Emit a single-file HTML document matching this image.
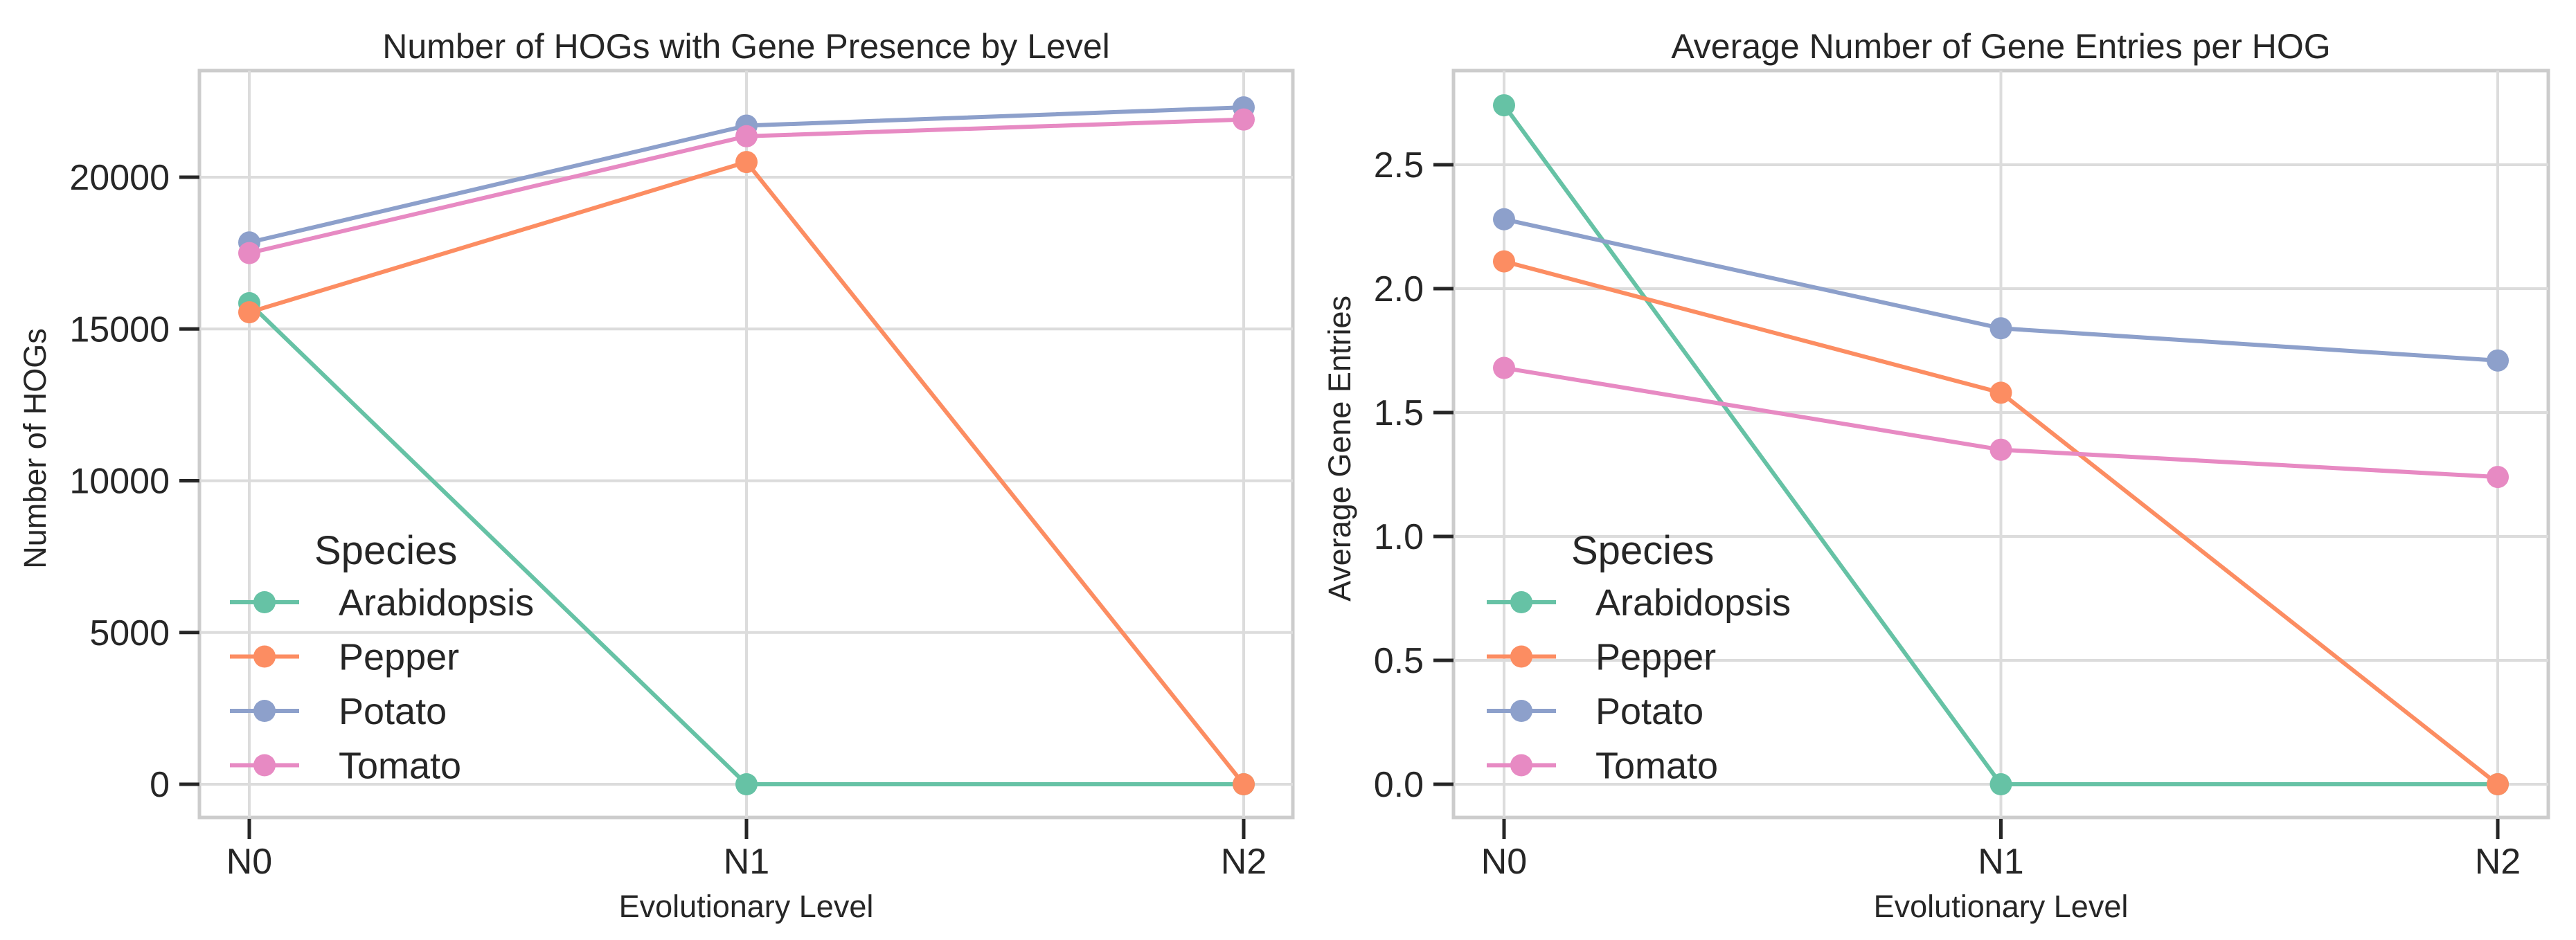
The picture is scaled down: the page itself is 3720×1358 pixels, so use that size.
<!DOCTYPE html>
<html><head><meta charset="utf-8"><style>
html,body{margin:0;padding:0;background:#fff;}
svg{display:block;font-family:"Liberation Sans",sans-serif;}
</style></head><body>
<svg id="chart" width="3720" height="1358" viewBox="0 0 3720 1358" xmlns="http://www.w3.org/2000/svg"></svg>
<script>
const levels = ["N0","N1","N2"];
const species = ["Arabidopsis","Pepper","Potato","Tomato"];
const colors = ["#66c2a5","#fc8d62","#8da0cb","#e78ac3"];
const hogArabidopsis = [15850, 0, 0];
const hogPepper = [15550, 20500, 0];
const hogPotato = [17850, 21700, 22300];
const hogTomato = [17500, 21350, 21900];
const avgArabidopsis = [2.74, 0, 0];
const avgPepper = [2.11, 1.58, 0];
const avgPotato = [2.28, 1.84, 1.71];
const avgTomato = [1.68, 1.35, 1.24];
const hogTicks = [0, 5000, 10000, 15000, 20000];
const hogTickLabels = ["0","5000","10000","15000","20000"];
const avgTicks = [0, 0.5, 1.0, 1.5, 2.0, 2.5];
const avgTickLabels = ["0.0","0.5","1.0","1.5","2.0","2.5"];

const NS = "http://www.w3.org/2000/svg";
const svg = document.getElementById("chart");
function mk(tag, attrs, parent, text){
  const e = document.createElementNS(NS, tag);
  for (const k in attrs) e.setAttribute(k, attrs[k]);
  if (text !== undefined) e.textContent = text;
  (parent || svg).appendChild(e);
  return e;
}

function panel(cfg){
  const g = mk("g", {});
  
  
  const xs = i => cfg.x0 + (cfg.x2 - cfg.x0) * i / (levels.length - 1);
  const ys = v => cfg.yZero - (v / cfg.yRefVal) * (cfg.yZero - cfg.yRef);
  const frame = mk("rect", {x: cfg.fl, y: 102, width: cfg.fr - cfg.fl, height: 1181 - 102, fill: "none", stroke: "#cccccc", "stroke-width": 5}, g);
  
  
  cfg.ticks.forEach((t, i) => {
    const y = ys(t);
    const gl = mk("line", {x1: cfg.fl, x2: cfg.fr, y1: y, y2: y, stroke: "#dcdcdc", "stroke-width": 4}, g);
    
    
    mk("line", {x1: cfg.fl - 29, x2: cfg.fl, y1: y, y2: y, stroke: "#262626", "stroke-width": 5}, g);
    const tl = mk("text", {x: cfg.fl - 43, y: y + 18, "text-anchor": "end", "font-size": 52, fill: "#262626"}, g, cfg.tickLabels[i]);
    
    
  });
  levels.forEach((lv, i) => {
    const x = xs(i);
    const gl = mk("line", {x1: x, x2: x, y1: 102, y2: 1181, stroke: "#dcdcdc", "stroke-width": 4}, g);
    
    
    mk("line", {x1: x, x2: x, y1: 1183, y2: 1212, stroke: "#262626", "stroke-width": 5}, g);
    const tl = mk("text", {x: x, y: 1262, "text-anchor": "middle", "font-size": 52, fill: "#262626"}, g, lv);
    
    
  });
  cfg.series.forEach((vals, s) => {
    const sg = mk("g", {}, g);
    
    
    const pts = vals.map((v, i) => xs(i) + "," + ys(v)).join(" ");
    const pl = mk("polyline", {points: pts, fill: "none", stroke: colors[s], "stroke-width": 6}, sg);
    
    
    vals.forEach((v, i) => {
      const c = mk("circle", {cx: xs(i), cy: ys(v), r: 16, fill: colors[s]}, sg);
      
      
    });
  });
  const t = mk("text", {x: (cfg.fl + cfg.fr) / 2, y: 84, "text-anchor": "middle", "font-size": 50, fill: "#262626"}, g, cfg.title);
  
  
  const xl = mk("text", {x: (cfg.fl + cfg.fr) / 2, y: 1325, "text-anchor": "middle", "font-size": 45, fill: "#262626"}, g, "Evolutionary Level");
  
  
  const yl = mk("text", {x: 0, y: 0, "text-anchor": "middle", "font-size": 45, fill: "#262626", transform: "translate(" + cfg.ylx + ",648) rotate(-90)"}, g, cfg.ylabel);
  
  
  const lg = mk("g", {}, g);
  
  
  const lt = mk("text", {x: cfg.legX + 122, y: 815, "font-size": 58, fill: "#262626"}, lg, "Species");
  
  
  species.forEach((sp, s) => {
    const y = 870 + s * 78.5;
    const eg = mk("g", {}, lg);
    
    
    mk("line", {x1: cfg.legX, x2: cfg.legX + 100, y1: y, y2: y, stroke: colors[s], "stroke-width": 6}, eg);
    mk("circle", {cx: cfg.legX + 50, cy: y, r: 16, fill: colors[s]}, eg);
    mk("text", {x: cfg.legX + 157, y: y + 19, "font-size": 54, fill: "#262626"}, eg, sp);
  });
}

panel({name: "hog-count-panel", fl: 288, fr: 1867, x0: 360, x2: 1796, yZero: 1133, yRef: 256, yRefVal: 20000,
  ticks: hogTicks, tickLabels: hogTickLabels, series: [hogArabidopsis, hogPepper, hogPotato, hogTomato],
  title: "Number of HOGs with Gene Presence by Level", ylabel: "Number of HOGs", ylx: 66, legX: 332});
panel({name: "avg-entries-panel", fl: 2099, fr: 3680, x0: 2172, x2: 3607, yZero: 1133, yRef: 238, yRefVal: 2.5,
  ticks: avgTicks, tickLabels: avgTickLabels, series: [avgArabidopsis, avgPepper, avgPotato, avgTomato],
  title: "Average Number of Gene Entries per HOG", ylabel: "Average Gene Entries", ylx: 1950, legX: 2147});
</script>
</body></html>
